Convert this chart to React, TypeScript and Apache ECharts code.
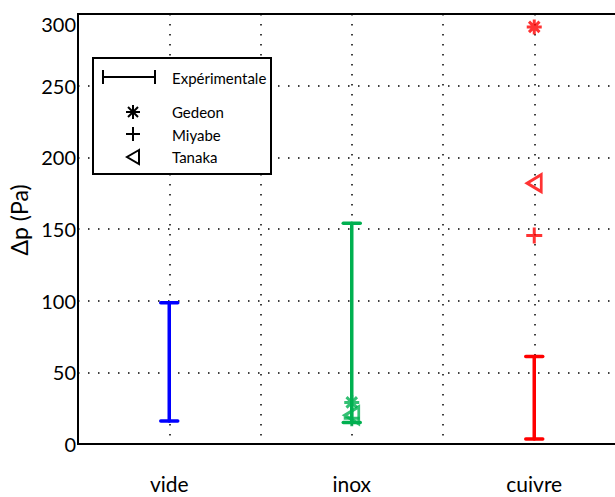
import React, { useEffect, useRef } from "react";
import * as echarts from "echarts";

const categories = ["vide", "inox", "cuivre"];
const categoryX = [1, 2, 3];
const colors = ["#0000ff", "#00b050", "#ff0000"];
const expLow = [16, 15, 3.5];
const expHigh = [98.5, 154, 61];
const gedeon: (number | null)[] = [null, 29, 291];
const miyabe: (number | null)[] = [null, 18, 145.5];
const tanaka: (number | null)[] = [null, 20, 182];
const yTicks = [0, 50, 100, 150, 200, 250, 300];

const FONT = "Lato";
const STAR = "path://M0.5,0L0.5,1M0,0.5L1,0.5M0.15,0.15L0.85,0.85M0.15,0.85L0.85,0.15";
const PLUS = "path://M0.5,0L0.5,1M0,0.5L1,0.5";
const TRI = "path://M1,0L0,0.5L1,1Z";

function markerSeries(name: string, vals: (number | null)[], symbol: string, size: number | number[]) {
  const data: any[] = [];
  vals.forEach((v, i) => {
    if (v === null) return;
    data.push({
      value: [categoryX[i], v],
      itemStyle: { color: "rgba(0,0,0,0)", borderColor: colors[i], borderWidth: 3 },
    });
  });
  return {
    name,
    type: "scatter",
    symbol,
    symbolSize: size,
    data,
    z: 5,
  };
}

export default function App() {
  const ref = useRef<HTMLDivElement>(null);
  useEffect(() => {
    if (!ref.current) return;
    const chart = echarts.init(ref.current, undefined, { renderer: "svg" });
    const errData = categoryX.map((x, i) => [x, expLow[i], expHigh[i], i]);
    const ls = { stroke: "#000", lineWidth: 2 };
    const line = (x1: number, y1: number, x2: number, y2: number) => ({
      type: "line",
      z: 101,
      shape: { x1, y1, x2, y2 },
      style: ls,
    });
    const option: any = {
      animation: false,
      backgroundColor: "#fff",
      grid: {
        left: 78,
        top: 14,
        right: -10.5,
        bottom: 53,
        outerBoundsMode: "none",
        containLabel: false,
        show: true,
        borderColor: "#000",
        borderWidth: 2,
        backgroundColor: "transparent",
      },
      xAxis: {
        type: "value",
        min: 0.5,
        max: 3.5,
        interval: 0.5,
        axisLine: { show: true, onZero: false, lineStyle: { color: "#000", width: 2 } },
        axisTick: { show: false },
        axisLabel: {
          margin: 29,
          fontFamily: FONT,
          fontSize: 21,
          color: "#000",
          formatter: (v: number) => {
            const idx = categoryX.indexOf(v);
            return idx >= 0 ? categories[idx] : "";
          },
        },
        splitLine: { show: true, lineStyle: { color: "#000", type: [1.5, 8.5], width: 1.5 } },
      },
      yAxis: {
        type: "value",
        min: 0,
        max: 300,
        interval: 50,
        name: "Δp (Pa)",
        nameLocation: "middle",
        nameRotate: 90,
        nameGap: 48,
        nameTextStyle: { fontFamily: FONT, fontSize: 23, color: "#000", padding: [0, 0, 0, 18] },
        axisLine: { show: true, lineStyle: { color: "#000", width: 2 } },
        axisTick: { show: false },
        axisLabel: {
          margin: 2,
          fontFamily: FONT,
          fontSize: 20,
          color: "#000",
          formatter: (v: number) => (v === yTicks[yTicks.length - 1] ? "{top|" + v + "}" : String(v)),
          rich: { top: { fontFamily: FONT, fontSize: 20, color: "#000", padding: [20, 0, 0, 0] } },
        },
        splitLine: { show: true, lineStyle: { color: "#000", type: [1.5, 8.5], width: 1.5 } },
      },
      series: [
        {
          name: "Expérimentale",
          type: "custom",
          data: errData,
          encode: { x: 0, y: [1, 2] },
          z: 4,
          renderItem: (params: any, api: any) => {
            const x = api.value(0);
            const lo = api.coord([x, api.value(1)]);
            const hi = api.coord([x, api.value(2)]);
            const c = colors[api.value(3)];
            const hw = 8.5;
            const style = { stroke: c, lineWidth: 3.5, lineCap: "round" };
            return {
              type: "group",
              children: [
                { type: "line", shape: { x1: lo[0], y1: lo[1], x2: hi[0], y2: hi[1] }, style },
                { type: "line", shape: { x1: lo[0] - hw, y1: lo[1], x2: lo[0] + hw, y2: lo[1] }, style },
                { type: "line", shape: { x1: hi[0] - hw, y1: hi[1], x2: hi[0] + hw, y2: hi[1] }, style },
              ],
            };
          },
        },
        markerSeries("Gedeon", gedeon, STAR, 15),
        markerSeries("Miyabe", miyabe, PLUS, 16),
        markerSeries("Tanaka", tanaka, TRI, [14, 17]),
      ],
      graphic: [
        {
          type: "rect",
          z: 100,
          shape: { x: 93, y: 58, width: 178, height: 116 },
          style: { fill: "#fff", stroke: "#000", lineWidth: 2 },
        },
        line(103, 77, 155, 77),
        line(103, 70, 103, 84),
        line(155, 70, 155, 84),
        line(133, 105, 133, 119),
        line(126, 112, 140, 112),
        line(128, 107, 138, 117),
        line(128, 117, 138, 107),
        line(133, 127, 133, 141),
        line(126, 134, 140, 134),
        {
          type: "polygon",
          z: 101,
          shape: { points: [[139, 150], [127, 157], [139, 164]] },
          style: { fill: "none", stroke: "#000", lineWidth: 2 },
        },
        ...[
          ["Expérimentale", 78],
          ["Gedeon", 112],
          ["Miyabe", 135],
          ["Tanaka", 157],
        ].map(([t, y]) => ({
          type: "text",
          z: 101,
          x: 172,
          y: y as number,
          style: {
            text: t as string,
            fontFamily: FONT,
            fontSize: 15,
            fill: "#000",
            verticalAlign: "middle",
            align: "left",
          },
        })),
      ],
    };
    chart.setOption(option);
    return () => chart.dispose();
  }, []);
  return (
    <div
      ref={ref}
      style={{ position: "absolute", left: 0, top: 0, width: 615, height: 497, overflow: "hidden" }}
    />
  );
}
